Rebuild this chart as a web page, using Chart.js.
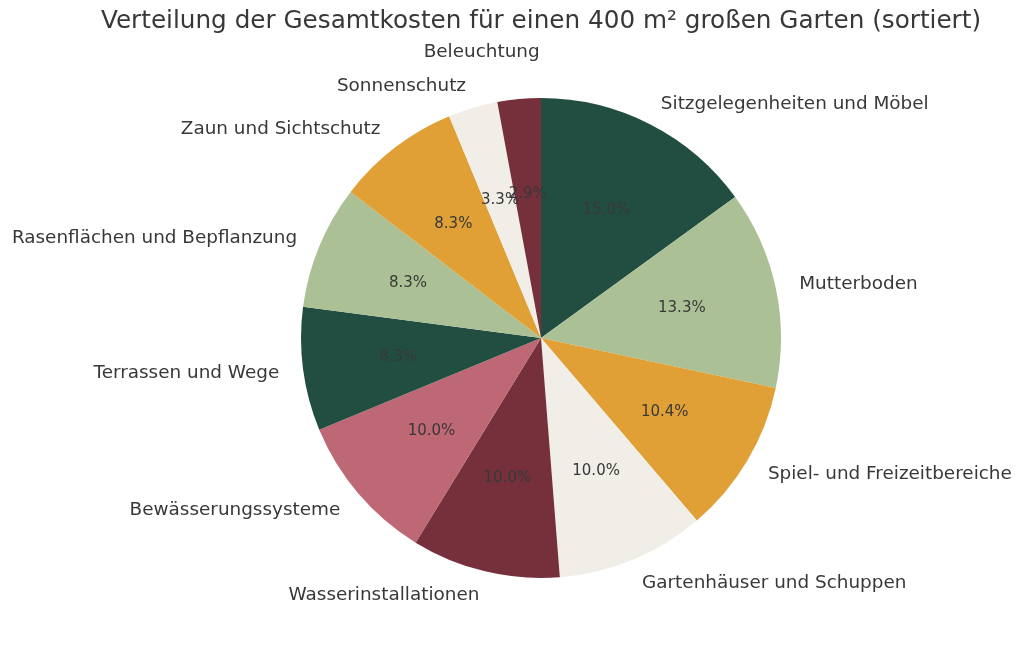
<!DOCTYPE html>
<html>
<head>
<meta charset="utf-8">
<script src="https://cdn.jsdelivr.net/npm/chart.js@4/dist/chart.umd.min.js"></script>
<style>
  html, body { margin: 0; padding: 0; background: #fff; }
  canvas { display: block; }
</style>
</head>
<body>
<canvas id="pieChart" width="1024" height="648"></canvas>
<script>
const titleText = 'Verteilung der Gesamtkosten für einen 400 m² großen Garten (sortiert)';
const categories = [
    'Sitzgelegenheiten und Möbel', 'Mutterboden', 'Spiel- und Freizeitbereiche',
    'Gartenhäuser und Schuppen', 'Wasserinstallationen', 'Bewässerungssysteme',
    'Terrassen und Wege', 'Rasenflächen und Bepflanzung', 'Zaun und Sichtschutz',
    'Sonnenschutz', 'Beleuchtung'
];
// Kosten in Euro (aus den Prozentwerten geschätzt)
const costs = [18000, 16000, 12500, 12000, 12000, 12000, 10000, 10000, 10000, 4000, 3500];

const darkGreen = '#224e41';
const lightGreen = '#abc195';
const orange = '#e0a036';
const cream = '#f1eee8';
const maroon = '#76303b';
const pink = '#bd6874';
const sliceColors = [darkGreen, lightGreen, orange, cream, maroon, pink, darkGreen, lightGreen, orange, cream, maroon];
const textColor = '#383838';
const fontFamily = '"DejaVu Sans"';

// small nudges where the original labels were moved by hand
const labelNudge = { 10: { r: 1.2, dx: 25 } };

const pieLabels = {
    id: 'pieLabels',
    afterDatasetsDraw(chart) {
        const ctx = chart.ctx;
        const meta = chart.getDatasetMeta(0);
        const data = chart.data.datasets[0].data;
        const total = data.reduce((a, b) => a + b, 0);
        ctx.save();
        ctx.fillStyle = textColor;
        ctx.textBaseline = 'middle';

        // title
        ctx.font = '24.7px ' + fontFamily;
        ctx.textAlign = 'center';
        const area = chart.chartArea;
        ctx.fillText(titleText, (area.left + area.right) / 2, 22);

        meta.data.forEach((arc, i) => {
            const p = arc.getProps(['x', 'y', 'startAngle', 'endAngle', 'outerRadius'], true);
            const mid = (p.startAngle + p.endAngle) / 2;
            const cos = Math.cos(mid), sin = Math.sin(mid);

            // percentage inside
            ctx.font = '15px ' + fontFamily;
            ctx.textAlign = 'center';
            const pr = p.outerRadius * 0.6;
            ctx.fillText((data[i] / total * 100).toFixed(1) + '%', p.x + cos * pr, p.y + sin * pr);

            // category outside
            const nudge = labelNudge[i] || { r: 1.1, dx: 0 };
            const lr = p.outerRadius * nudge.r;
            ctx.font = '18.4px ' + fontFamily;
            ctx.textAlign = cos >= 0 ? 'left' : 'right';
            ctx.fillText(categories[i], p.x + cos * lr + nudge.dx, p.y + sin * lr + 1);
        });
        ctx.restore();
    }
};

const ctxPie = document.getElementById('pieChart').getContext('2d');
new Chart(ctxPie, {
    type: 'pie',
    data: {
        labels: categories,
        datasets: [{
            data: costs,
            backgroundColor: sliceColors,
            borderWidth: 0,
            hoverBorderWidth: 0,
            offset: 0,
            hoverOffset: 0
        }]
    },
    options: {
        responsive: false,
        animation: false,
        events: [],
        layout: { padding: { left: 301, right: 243, top: 98, bottom: 70 } },
        plugins: {
            legend: { display: false },
            tooltip: { enabled: false },
            title: { display: false }
        }
    },
    plugins: [pieLabels]
});
</script>
</body>
</html>
